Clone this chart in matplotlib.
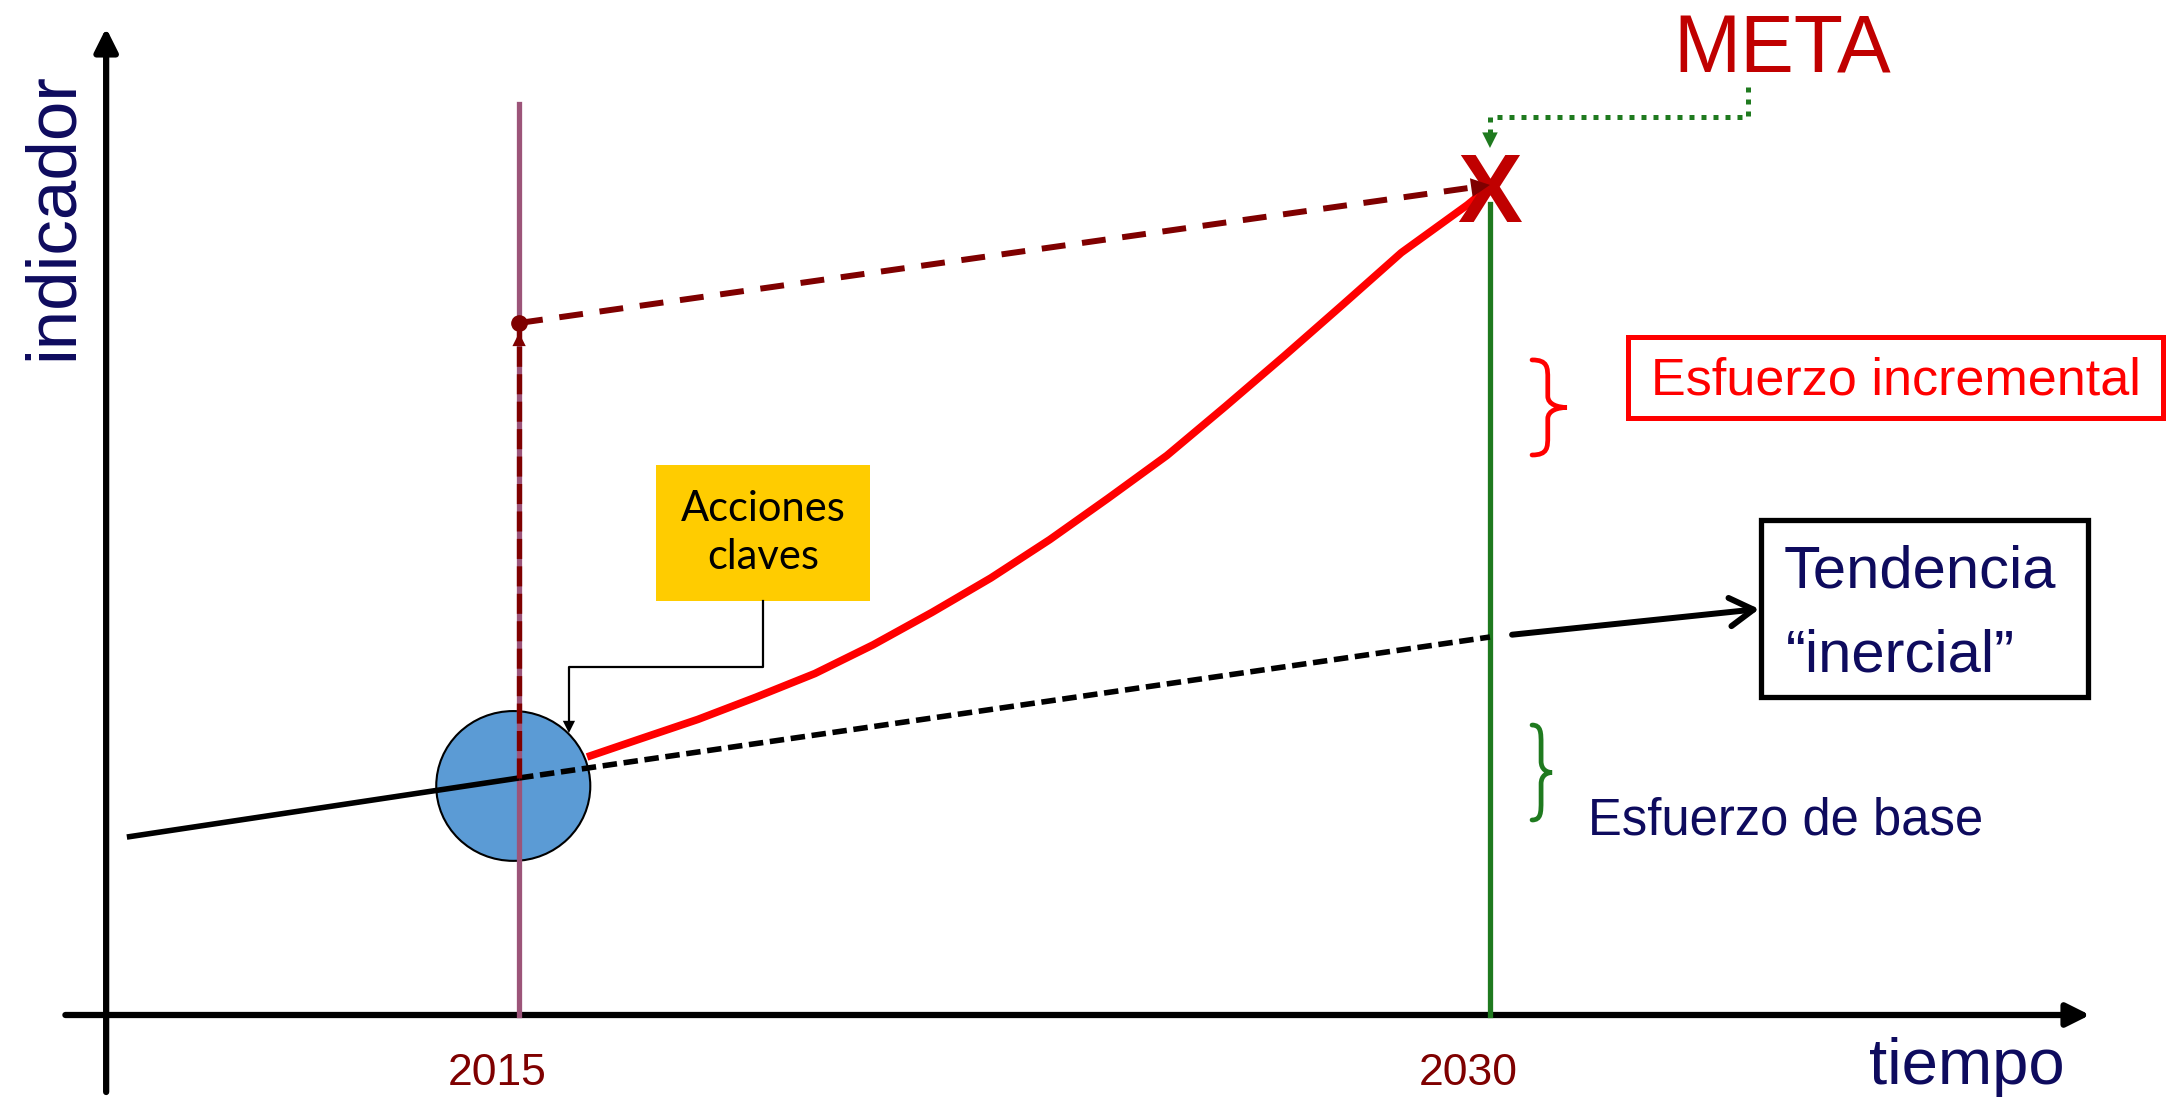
import numpy as np
import matplotlib.pyplot as plt
from matplotlib.patches import Ellipse, Rectangle, PathPatch
from matplotlib.path import Path

plt.rcParams['font.family'] = ['Liberation Sans', 'DejaVu Sans']

# --- datos (anio, indicador) ---
anios_hito = [2015, 2030]
etiquetas_hito = ['2015', '2030']

tendencia_anios = [2008.94, 2015.0, 2030.0, 2034.16]
tendencia_valores = [12.71, 16.93, 27.0, 29.0]

esfuerzo_anios = [2016.05, 2016.85, 2017.76, 2018.66, 2019.57, 2020.47, 2021.38,
                  2022.29, 2023.20, 2024.10, 2025.01, 2025.91, 2026.82, 2027.73,
                  2028.63, 2029.65, 2029.95]
esfuerzo_valores = [18.43, 19.69, 21.11, 22.70, 24.39, 26.44, 28.76,
                    31.22, 33.96, 36.91, 39.97, 43.46, 47.07, 50.76,
                    54.45, 57.86, 59.0]

meta_anios = [2015, 2030]
meta_valores = [49.43, 59.29]

punto_inicial = (2014.91, 16.36)

# colores
NAVY = '#0e0b5e'
GRANATE = '#7f0000'
ROJO_META = '#c00000'
VERDE = '#1f7a1f'
MALVA = '#9c5479'

fig = plt.figure(figsize=(21.67, 10.99), dpi=100)
ax = fig.add_axes([0, 0, 1, 1])
ax.set_xlim(2006.98, 2040.46)
ax.set_ylim(-6.0, 72.5)
ax.axis('off')


def punta(desde, hasta, color, escala, estilo='-|>'):
    # solo la cabeza de flecha (lw=0), el trazo va aparte
    ax.annotate('', xy=hasta, xytext=desde,
                arrowprops=dict(arrowstyle=estilo, lw=0, color=color,
                                mutation_scale=escala, shrinkA=0, shrinkB=0),
                zorder=8)


def llave(x0, ancho, y0, y1, color):
    h = y1 - y0
    ym = (y0 + y1) / 2
    xm = x0 + ancho * 0.45
    xt = x0 + ancho
    verts = [(x0, y1),
             (xm, y1), (xm, y1 - 0.08 * h), (xm, y1 - 0.2 * h),
             (xm, ym + 0.12 * h),
             (xm, ym + 0.03 * h), (xt - 0.25 * ancho, ym), (xt, ym),
             (xt - 0.25 * ancho, ym), (xm, ym - 0.03 * h), (xm, ym - 0.12 * h),
             (xm, y0 + 0.2 * h),
             (xm, y0 + 0.08 * h), (xm, y0), (x0, y0)]
    codes = [Path.MOVETO] + [Path.CURVE4] * 3 + [Path.LINETO] + [Path.CURVE4] * 6 \
        + [Path.LINETO] + [Path.CURVE4] * 3
    ax.add_patch(PathPatch(Path(verts, codes), fill=False, ec=color, lw=3.4,
                           capstyle='round'))


# ejes con flechas
for xy, xytext in [((2039.27, 0), (2007.99, 0)), ((2008.62, 70.5), (2008.62, -5.5))]:
    ax.annotate('', xy=xy, xytext=xytext,
                arrowprops=dict(arrowstyle='-|>,head_length=0.5,head_width=0.25',
                                lw=4.5, color='black', mutation_scale=28,
                                shrinkA=0, shrinkB=0))

ax.text(2008.09, 57.07, 'indicador', rotation=90, rotation_mode='anchor',
        ha='center', va='baseline', fontsize=51, color=NAVY)
ax.text(2037.37, -4.93, 'tiempo', ha='center', va='baseline', fontsize=47, color=NAVY)

for anio, etiqueta in zip(anios_hito, etiquetas_hito):
    ax.annotate(etiqueta, xy=(anio, -5.0), xytext=(-16, 0), textcoords='offset points',
                ha='center', va='baseline', fontsize=32, color=GRANATE)

# lineas verticales de los hitos
ax.plot([anios_hito[0]] * 2, [0, 65.1], color=MALVA, lw=3.8, zorder=3)
ax.plot([anios_hito[1]] * 2, [0, 57.9], color=VERDE, lw=3.8, zorder=3)

# circulo del punto de partida
ax.add_patch(Ellipse(punto_inicial, 2.38, 10.7, fc='#5b9bd5', ec='black', lw=1.5, zorder=2))

# tendencia inercial
ax.plot(tendencia_anios[:2], tendencia_valores[:2], color='black', lw=4.0,
        solid_capstyle='butt', zorder=4)
ax.plot(tendencia_anios[1:3], tendencia_valores[1:3], color='black', lw=4.0,
        dashes=(2.6, 1.2), zorder=4)
ax.annotate('', xy=(tendencia_anios[3], tendencia_valores[3]),
            xytext=(tendencia_anios[2], tendencia_valores[2]),
            arrowprops=dict(arrowstyle='->,head_length=0.5,head_width=0.3',
                            lw=4.3, color='black', mutation_scale=34,
                            shrinkA=16, shrinkB=0), zorder=4)

# esfuerzo incremental (curva roja)
ax.plot(esfuerzo_anios, esfuerzo_valores, color='#ff0000', lw=5.5,
        solid_capstyle='butt', solid_joinstyle='round', zorder=5)

# trayectoria a la meta
ax.plot([meta_anios[0]] * 2, [tendencia_valores[1], meta_valores[0]], color=GRANATE,
        lw=3.8, dashes=(3.8, 1.4), zorder=5)
punta((meta_anios[0], tendencia_valores[1]), (meta_anios[0], meta_valores[0] - 0.7),
      GRANATE, 24)
ax.plot(meta_anios, meta_valores, color=GRANATE, lw=4.3, dashes=(4.0, 2.8), zorder=5)
punta((meta_anios[0], meta_valores[0]), (meta_anios[1], meta_valores[1]), GRANATE, 34)
ax.plot(meta_anios[0], meta_valores[0], 'o', color=GRANATE, markersize=11, zorder=6)

ax.text(meta_anios[1], 56.64, 'X', ha='center', va='baseline', fontsize=70,
        fontweight='bold', color=ROJO_META, zorder=7)

# etiqueta META con conector punteado
ax.text(2034.51, 67.29, 'META', ha='center', va='baseline', fontsize=58, color=ROJO_META)
ax.plot([2033.99, 2033.99, 2030.0, 2030.0], [66.29, 64.14, 64.14, 62.6], color=VERDE,
        lw=3.6, dashes=(1, 1.4), solid_capstyle='butt', zorder=5)
punta((2030.0, 64.14), (2030.0, 61.93), VERDE, 28)

# caja "Acciones claves"
ax.add_patch(Rectangle((2017.12, 29.57), 3.30, 9.72, fc='#ffcc00', ec='none', zorder=6))
ax.text(2018.77, 34.43, 'Acciones\nclaves', ha='center', va='center', fontsize=30,
        family=['Lato', 'DejaVu Sans'], linespacing=1.3, color='black', zorder=7)
ax.plot([2018.77, 2018.77, 2015.77, 2015.77], [29.57, 24.86, 24.86, 21.0],
        color='black', lw=1.6, zorder=6)
punta((2015.77, 24.86), (2015.77, 20.14), 'black', 22)

# llaves y textos de esfuerzo
llave(2030.65, 0.54, 40.0, 46.79, '#ff0000')
ax.add_patch(Rectangle((2032.13, 42.64), 8.27, 5.79, fc='white', ec='#ff0000', lw=3.6,
                       zorder=6))
ax.text(2032.49, 44.29, 'Esfuerzo incremental', ha='left', va='baseline', fontsize=37.5,
        color='#ff0000', zorder=7)

llave(2030.65, 0.31, 13.93, 20.71, VERDE)
ax.text(2031.51, 12.86, 'Esfuerzo de base', ha='left', va='baseline', fontsize=36.5,
        color=NAVY)

# caja tendencia inercial
ax.add_patch(Rectangle((2034.19, 22.71), 5.05, 12.65, fc='white', ec='black', lw=3.8,
                       zorder=6))
ax.text(2034.53, 30.57, 'Tendencia', ha='left', va='baseline', fontsize=43, color=NAVY,
        zorder=7)
ax.text(2034.57, 24.5, '\u201cinercial\u201d', ha='left', va='baseline', fontsize=43,
        color=NAVY, zorder=7)

fig.savefig('out.png', dpi=100)
